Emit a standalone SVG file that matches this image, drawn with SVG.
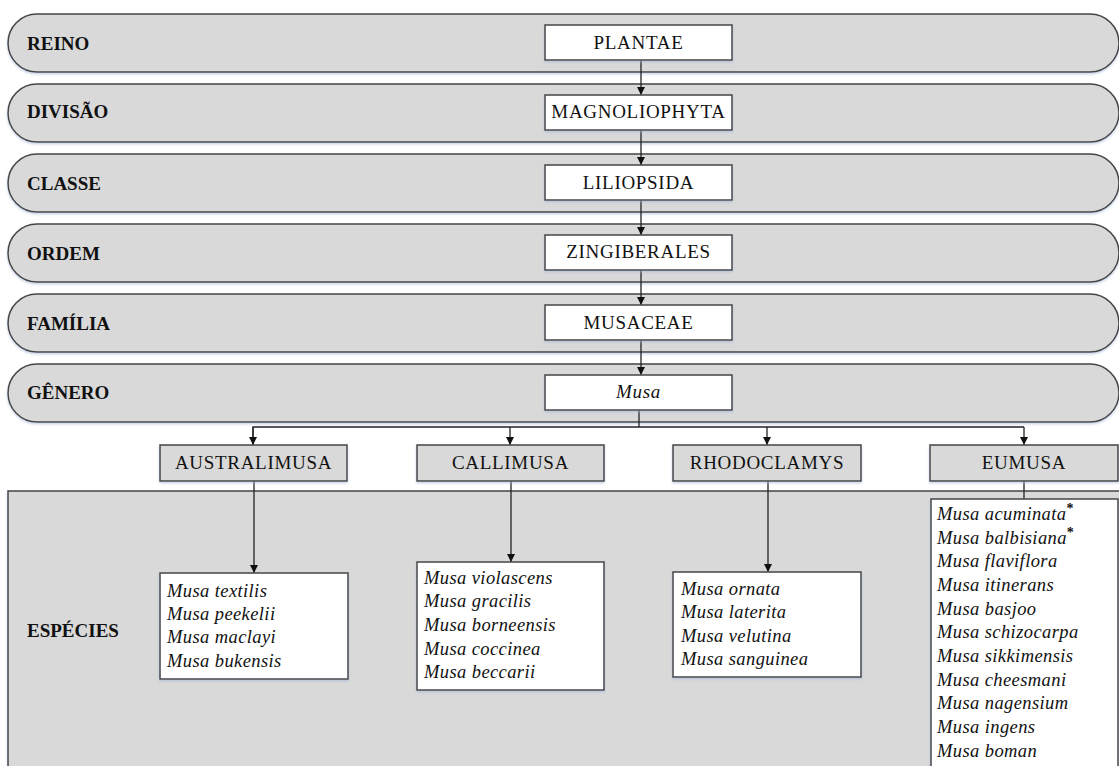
<svg xmlns="http://www.w3.org/2000/svg" width="1119" height="766" viewBox="0 0 1119 766">
<defs>
<marker id="arr" viewBox="0 0 10 10" refX="10" refY="5" markerWidth="8" markerHeight="8" markerUnits="userSpaceOnUse" orient="auto">
<path d="M0,0 L10,5 L0,10 z" fill="#111"/>
</marker>
<filter id="sh" x="-5%" y="-20%" width="110%" height="140%">
<feDropShadow dx="0" dy="1.5" stdDeviation="1.2" flood-color="#9fb6d6" flood-opacity="0.6"/>
</filter>
</defs>
<style>
.band{fill:#d9d9d9;stroke:#444;stroke-width:1.5;filter:url(#sh)}
.box{fill:#fff;stroke:#444;stroke-width:1.5;filter:url(#sh)}
.gbox{fill:#d9d9d9;stroke:#444;stroke-width:1.5;filter:url(#sh)}
.lbl{font-family:"Liberation Serif",serif;font-weight:bold;font-size:19px;fill:#111}
.bt{font-family:"Liberation Serif",serif;font-size:19px;fill:#111;text-anchor:middle;letter-spacing:0.7px}
.sp{font-family:"Liberation Serif",serif;font-style:italic;font-size:18.5px;fill:#111;letter-spacing:0.4px}
.ast{font-family:"Liberation Serif",serif;font-style:normal;font-weight:bold;font-size:14px;fill:#111}
.ln{stroke:#222;stroke-width:1.3;fill:none}
</style>
<rect width="1119" height="766" fill="#fff"/>
<g id="bands">
<g id="band-reino"><rect class="band" x="8" y="14" width="1111" height="58" rx="29"/><text class="lbl" x="27" y="50">REINO</text></g>
<g id="band-divisao"><rect class="band" x="8" y="84" width="1111" height="58" rx="29"/><text class="lbl" x="27" y="118">DIVISÃO</text></g>
<g id="band-classe"><rect class="band" x="8" y="154" width="1111" height="58" rx="29"/><text class="lbl" x="27" y="190">CLASSE</text></g>
<g id="band-ordem"><rect class="band" x="8" y="224" width="1111" height="58" rx="29"/><text class="lbl" x="27" y="260">ORDEM</text></g>
<g id="band-familia"><rect class="band" x="8" y="294" width="1111" height="58" rx="29"/><text class="lbl" x="27" y="330">FAMÍLIA</text></g>
<g id="band-genero"><rect class="band" x="8" y="364" width="1111" height="58" rx="29"/><text class="lbl" x="27" y="399">GÊNERO</text></g>
<g id="band-especies"><rect class="band" x="8" y="491" width="1130" height="300"/><text class="lbl" x="27" y="637">ESPÉCIES</text></g>
</g>
<g id="connectors">
<line class="ln" x1="641" y1="60" x2="641" y2="95" marker-end="url(#arr)"/>
<line class="ln" x1="641" y1="130" x2="641" y2="165" marker-end="url(#arr)"/>
<line class="ln" x1="641" y1="200" x2="641" y2="235" marker-end="url(#arr)"/>
<line class="ln" x1="641" y1="270" x2="641" y2="305" marker-end="url(#arr)"/>
<line class="ln" x1="641" y1="340" x2="641" y2="375" marker-end="url(#arr)"/>
<polyline class="ln" points="639,410 639,427"/>
<polyline class="ln" points="253,445 253,427 1024,427"/>
<line class="ln" x1="253" y1="427" x2="253" y2="445" marker-end="url(#arr)"/>
<line class="ln" x1="510" y1="427" x2="510" y2="445" marker-end="url(#arr)"/>
<line class="ln" x1="767" y1="427" x2="767" y2="445" marker-end="url(#arr)"/>
<line class="ln" x1="1024" y1="427" x2="1024" y2="445" marker-end="url(#arr)"/>
<line class="ln" x1="254" y1="481" x2="254" y2="573" marker-end="url(#arr)"/>
<line class="ln" x1="511" y1="481" x2="511" y2="562" marker-end="url(#arr)"/>
<line class="ln" x1="768" y1="481" x2="768" y2="572" marker-end="url(#arr)"/>
<line class="ln" x1="1024" y1="481" x2="1024" y2="499"/>
</g>
<g id="n-plantae"><rect class="box" x="545" y="25" width="187" height="35"/><text class="bt" x="638.5" y="49">PLANTAE</text></g>
<g id="n-magnoliophyta"><rect class="box" x="545" y="95" width="187" height="35"/><text class="bt" x="638.5" y="118">MAGNOLIOPHYTA</text></g>
<g id="n-liliopsida"><rect class="box" x="545" y="165" width="187" height="35"/><text class="bt" x="638.5" y="189">LILIOPSIDA</text></g>
<g id="n-zingiberales"><rect class="box" x="545" y="235" width="187" height="35"/><text class="bt" x="638.5" y="258">ZINGIBERALES</text></g>
<g id="n-musaceae"><rect class="box" x="545" y="305" width="187" height="35"/><text class="bt" x="638.5" y="329">MUSACEAE</text></g>
<g id="n-musa"><rect class="box" x="545" y="375" width="187" height="35"/><text class="bt" x="638.5" y="398" font-style="italic">Musa</text></g>
<g id="n-australimusa"><rect class="gbox" x="160" y="445" width="187" height="36"/><text class="bt" x="253.5" y="469">AUSTRALIMUSA</text></g>
<g id="n-callimusa"><rect class="gbox" x="417" y="445" width="187" height="36"/><text class="bt" x="510.5" y="469">CALLIMUSA</text></g>
<g id="n-rhodoclamys"><rect class="gbox" x="673" y="445" width="188" height="36"/><text class="bt" x="767" y="469">RHODOCLAMYS</text></g>
<g id="n-eumusa"><rect class="gbox" x="930" y="445" width="188" height="36"/><text class="bt" x="1024" y="469">EUMUSA</text></g>
<g id="s-australimusa"><rect class="box" x="160" y="573" width="188" height="106"/>
<text class="sp" x="167" y="597">Musa textilis</text>
<text class="sp" x="167" y="620">Musa peekelii</text>
<text class="sp" x="167" y="643">Musa maclayi</text>
<text class="sp" x="167" y="667">Musa bukensis</text></g>
<g id="s-callimusa"><rect class="box" x="417" y="562" width="187" height="128"/>
<text class="sp" x="424" y="584">Musa violascens</text>
<text class="sp" x="424" y="607">Musa gracilis</text>
<text class="sp" x="424" y="631">Musa borneensis</text>
<text class="sp" x="424" y="655">Musa coccinea</text>
<text class="sp" x="424" y="678">Musa beccarii</text></g>
<g id="s-rhodoclamys"><rect class="box" x="673" y="572" width="188" height="105"/>
<text class="sp" x="681" y="595">Musa ornata</text>
<text class="sp" x="681" y="618">Musa laterita</text>
<text class="sp" x="681" y="642">Musa velutina</text>
<text class="sp" x="681" y="665">Musa sanguinea</text></g>
<g id="s-eumusa"><rect class="box" x="931" y="499" width="187" height="290"/>
<text class="sp" x="937" y="520">Musa acuminata<tspan class="ast" dy="-7">*</tspan></text>
<text class="sp" x="937" y="544">Musa balbisiana<tspan class="ast" dy="-7">*</tspan></text>
<text class="sp" x="937" y="567">Musa flaviflora</text>
<text class="sp" x="937" y="591">Musa itinerans</text>
<text class="sp" x="937" y="615">Musa basjoo</text>
<text class="sp" x="937" y="638">Musa schizocarpa</text>
<text class="sp" x="937" y="662">Musa sikkimensis</text>
<text class="sp" x="937" y="686">Musa cheesmani</text>
<text class="sp" x="937" y="709">Musa nagensium</text>
<text class="sp" x="937" y="733">Musa ingens</text>
<text class="sp" x="937" y="757">Musa boman</text></g>
</svg>
